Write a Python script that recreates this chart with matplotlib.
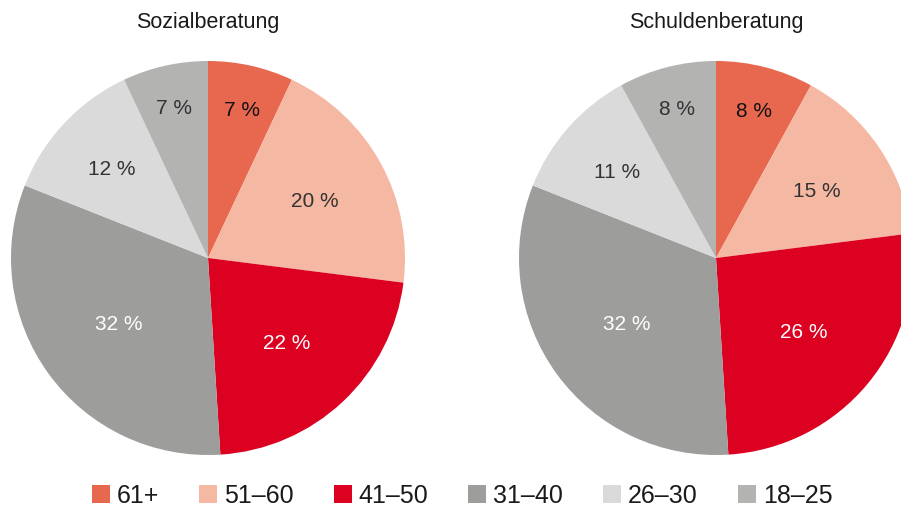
import matplotlib
matplotlib.use("Agg")
import matplotlib.pyplot as plt
import numpy as np

plt.rcParams['font.family'] = ['Liberation Sans', 'DejaVu Sans']

groups = ["61+", "51–60", "41–50", "31–40", "26–30", "18–25"]
titles = ["Sozialberatung", "Schuldenberatung"]
sozial = [7, 20, 22, 32, 12, 7]
schulden = [8, 15, 26, 32, 11, 8]

colors = ["#e8684f", "#f4b8a3", "#dc0021", "#9d9d9c", "#dadada", "#b3b3b2"]
text_colors = ["#111111", "#333333", "white", "white", "#333333", "#333333"]
label_dist = [0.78, 0.62, 0.58, 0.56, 0.67, 0.79]

fig = plt.figure(figsize=(9.01, 5.11), dpi=100)
ax = fig.add_axes([0, 0, 1, 1])

R = 197
centers = [(208, 253), (716, 253)]
wedges = None
for title, vals, (cx, cy) in zip(titles, [sozial, schulden], centers):
    w, _ = ax.pie(vals, colors=colors, startangle=90, counterclock=False,
                  center=(cx, cy), radius=R, wedgeprops=dict(linewidth=0))
    if wedges is None:
        wedges = w
    for wedge, v, d, tc in zip(w, vals, label_dist, text_colors):
        mid = np.deg2rad((wedge.theta1 + wedge.theta2) / 2)
        ax.text(cx + d * R * np.cos(mid), cy + d * R * np.sin(mid) - 2, f"{v} %",
                ha="center", va="center", fontsize=15, color=tc)
    ax.text(cx, 489, title, ha="center", va="center", fontsize=15.5, color="#1a1a1a")

ax.set_xlim(0, 901)
ax.set_ylim(0, 511)
ax.set_aspect("equal")
ax.axis("off")

fig.legend(wedges, groups, loc="center", bbox_to_anchor=(462 / 901, 15 / 511), ncol=6,
           frameon=False, fontsize=18, handlelength=0.72, handleheight=0.72,
           handletextpad=0.28, columnspacing=1.6, labelcolor="#1a1a1a",
           borderpad=0, borderaxespad=0)

fig.savefig("out.png", dpi=100)
